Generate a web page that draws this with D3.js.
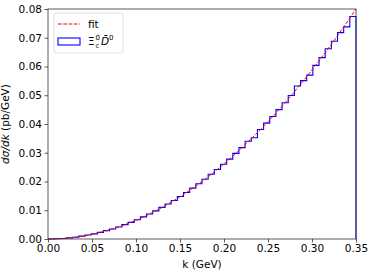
<!DOCTYPE html>
<html>
<head>
<meta charset="utf-8">
<script src="https://cdn.jsdelivr.net/npm/d3@7"></script>
<style>
  body { margin: 0; background: #fff; }
  text { font-family: "DejaVu Sans", sans-serif; }
</style>
</head>
<body>
<div id="chart"></div>
<script>
// histogram: 50 bins of width 0.007 GeV from 0 to 0.35
var binWidth = 0.007;
var histValues = [
    0.0000, 0.0001, 0.0002, 0.0004, 0.0006, 0.0010, 0.0014, 0.0018, 0.0023, 0.0029,
    0.0035, 0.0042, 0.0050, 0.0058, 0.0067, 0.0077, 0.0087, 0.0098, 0.0110, 0.0122,
    0.0134, 0.0148, 0.0162, 0.0177, 0.0192, 0.0208, 0.0225, 0.0242, 0.0260, 0.0278,
    0.0298, 0.0318, 0.0340, 0.0352, 0.0381, 0.0403, 0.0426, 0.0450, 0.0474, 0.0499,
    0.0532, 0.0551, 0.0570, 0.0604, 0.0631, 0.0662, 0.0688, 0.0718, 0.0738, 0.0774
];

// fit curve
var fitK = [0, 0.025, 0.05, 0.075, 0.1, 0.125, 0.15, 0.175, 0.2, 0.225, 0.25, 0.275, 0.3, 0.325, 0.35];
var fitY = [0, 0.0004, 0.0016, 0.0037, 0.0065, 0.0102, 0.0147, 0.0200, 0.0261, 0.0331, 0.0408, 0.0494, 0.0588, 0.0690, 0.0800];

var xTicks = [0, 0.05, 0.10, 0.15, 0.20, 0.25, 0.30, 0.35];
var yTicks = [0, 0.01, 0.02, 0.03, 0.04, 0.05, 0.06, 0.07, 0.08];

var fs = 10.5;
var margin = { top: 9, right: 18, bottom: 34, left: 48 };
var width = 374 - margin.left - margin.right;
var height = 273 - margin.top - margin.bottom;

var svg = d3.select("#chart").append("svg")
    .attr("width", 374)
    .attr("height", 273)
    .append("g")
    .attr("transform", "translate(" + margin.left + "," + margin.top + ")");

var x = d3.scaleLinear().domain([0, 0.35]).range([0, width]);
var y = d3.scaleLinear().domain([0, 0.08]).range([height, 0]);

// histogram step outline
var steps = [[0, 0]];
histValues.forEach(function(v, i) { steps.push([i * binWidth, v]); });
steps.push([0.35, histValues[histValues.length - 1]]);
steps.push([0.35, 0]);

var stepLine = d3.line()
    .curve(d3.curveStepAfter)
    .x(function(d) { return x(d[0]); })
    .y(function(d) { return y(d[1]); });

svg.append("path")
    .attr("d", stepLine(steps))
    .attr("fill", "none")
    .attr("stroke", "#0000ff")
    .attr("stroke-width", 1.1);

var fitLine = d3.line()
    .curve(d3.curveMonotoneX)
    .x(function(d, i) { return x(fitK[i]); })
    .y(function(d) { return y(d); });

svg.append("path")
    .attr("d", fitLine(fitY))
    .attr("fill", "none")
    .attr("stroke", "#ff0000")
    .attr("stroke-width", 1)
    .attr("stroke-dasharray", "3.7,1.6");

// axes
var xAxis = svg.append("g")
    .attr("transform", "translate(0," + height + ")")
    .call(d3.axisBottom(x).tickValues(xTicks).tickFormat(d3.format(".2f")).tickSize(3.5).tickPadding(2.5));
var yAxis = svg.append("g")
    .call(d3.axisLeft(y).tickValues(yTicks).tickFormat(d3.format(".2f")).tickSize(3.5).tickPadding(2.5));

[xAxis, yAxis].forEach(function(a) {
    a.select(".domain").remove();
    a.selectAll("line").attr("stroke", "#333").attr("stroke-width", 0.8);
    a.selectAll("text").attr("font-size", fs).attr("fill", "#000")
        .attr("font-family", "DejaVu Sans, sans-serif");
});

// frame
svg.append("rect")
    .attr("width", width)
    .attr("height", height)
    .attr("fill", "none")
    .attr("stroke", "#333")
    .attr("stroke-width", 0.8);

// axis labels
svg.append("text")
    .attr("x", width / 2)
    .attr("y", height + 29)
    .attr("text-anchor", "middle")
    .attr("font-size", fs)
    .text("k (GeV)");

var yl = svg.append("text")
    .attr("transform", "translate(-39," + (height / 2) + ") rotate(-90)")
    .attr("text-anchor", "middle")
    .attr("font-size", fs);
yl.append("tspan").attr("font-style", "italic").text("d\u03c3/dk");
yl.append("tspan").text(" (pb/GeV)");

// legend
var lg = svg.append("g").attr("transform", "translate(6,4)");
lg.append("rect")
    .attr("width", 69)
    .attr("height", 40)
    .attr("rx", 2.5)
    .attr("fill", "#fff")
    .attr("fill-opacity", 0.8)
    .attr("stroke", "#d8d8d8")
    .attr("stroke-width", 0.8);
lg.append("line")
    .attr("x1", 4).attr("x2", 26)
    .attr("y1", 11).attr("y2", 11)
    .attr("stroke", "#ff0000")
    .attr("stroke-width", 1)
    .attr("stroke-dasharray", "3.7,1.6");
lg.append("text")
    .attr("x", 34).attr("y", 14.5)
    .attr("font-size", fs)
    .text("fit");
lg.append("rect")
    .attr("x", 4).attr("y", 25)
    .attr("width", 22).attr("height", 7)
    .attr("fill", "none")
    .attr("stroke", "#0000ff")
    .attr("stroke-width", 1.1);
// Xi_c^0 Dbar^0, sub and sup stacked
lg.append("text").attr("x", 34).attr("y", 32).attr("font-size", fs).text("\u039e");
lg.append("text").attr("x", 41.5).attr("y", 27).attr("font-size", 7).text("0");
lg.append("text").attr("x", 41.5).attr("y", 34.5).attr("font-size", 7).text("c");
var dt = lg.append("text").attr("x", 47).attr("y", 32).attr("font-size", fs);
dt.append("tspan").attr("font-style", "italic").text("D\u0304");
dt.append("tspan").attr("font-size", 7).attr("dy", -5).text("0");
</script>
</body>
</html>
